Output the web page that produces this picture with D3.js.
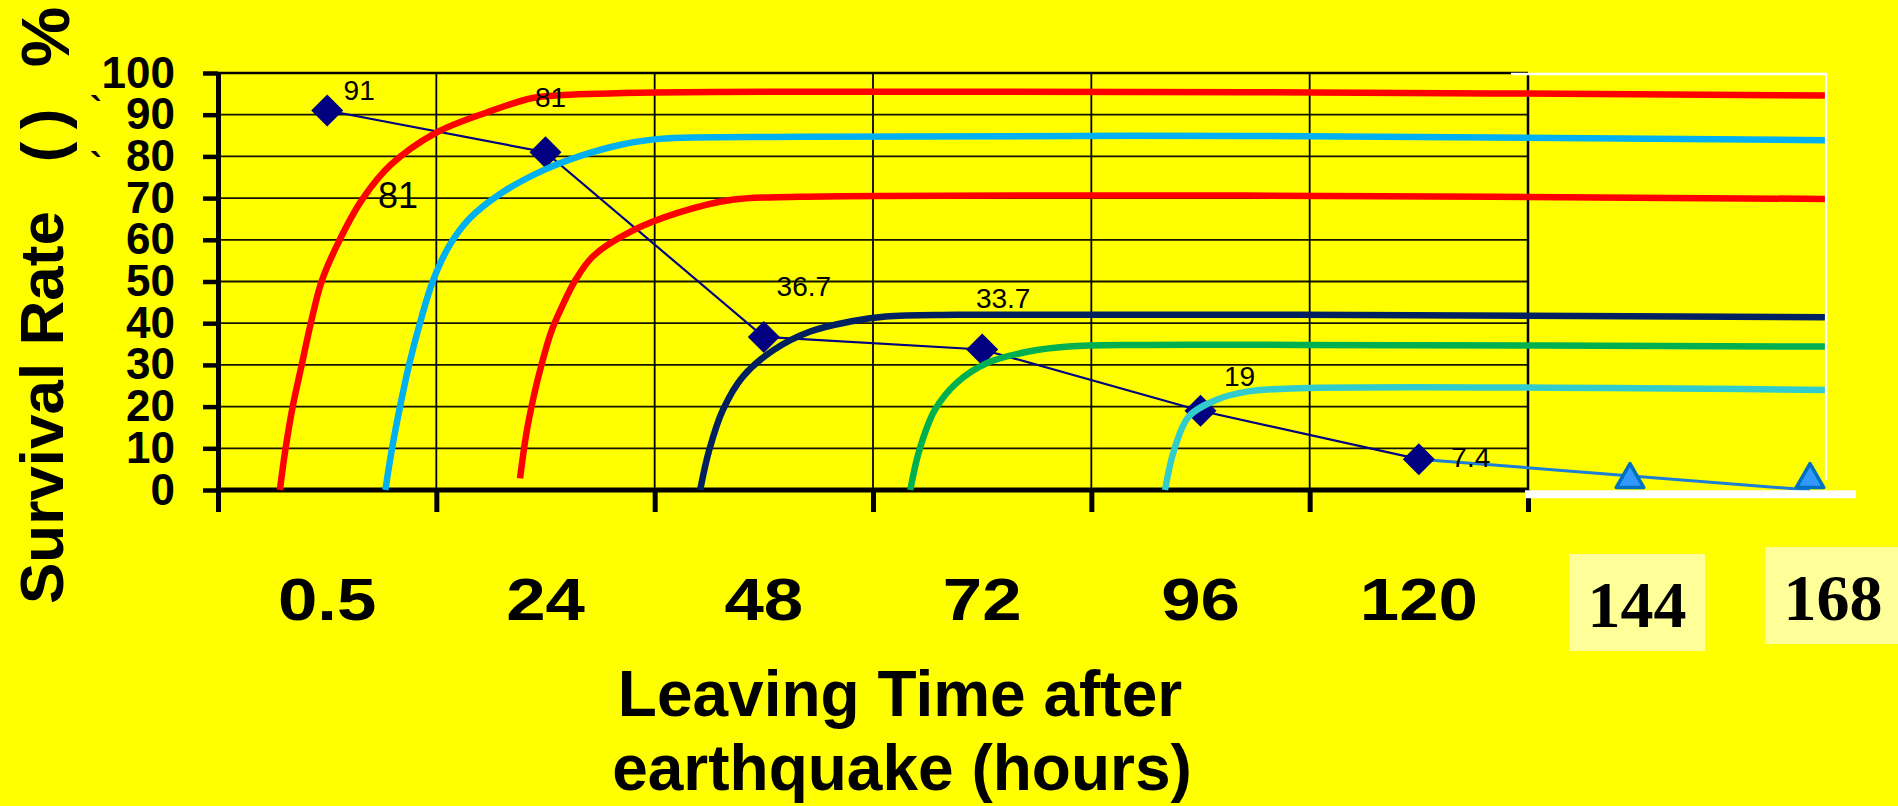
<!DOCTYPE html>
<html>
<head>
<meta charset="utf-8">
<script src="https://cdn.jsdelivr.net/npm/d3@7/dist/d3.min.js"></script>
<style>
  html, body { margin: 0; padding: 0; background: #FFFF00; }
  svg { display: block; }
  text { font-family: "Liberation Sans", Arial, sans-serif; fill: #000; }
</style>
</head>
<body>
<svg id="chart" width="1898" height="806"></svg>
<script>
// Leaving time categories (hours after the earthquake)
const categories = ["0.5", "24", "48", "72", "96", "120"];
// Survival rate (%) of people rescued in each time window
const survivalRates = [91, 81, 36.7, 33.7, 19, 7.4];

// Extended time points beyond the grid
const extraCategories = ["144", "168"];
const extraHours = [144, 168];
const extraRates = [2.5, 2.5];

// Trend continuation from the last window down to zero
const tailHours = [120, 168];
const tailRates = [7.4, 0];

const yTicks = [0, 10, 20, 30, 40, 50, 60, 70, 80, 90, 100];

// Rescue curves: [hours, survival %]
const curveRedA = [[-5.2, 0], [-4.6, 9.6], [-3.8, 19.9], [-2.8, 30], [-1.8, 40], [-0.6, 50.1], [1.2, 59.2], [3.8, 69.5], [7.0, 78], [11.9, 85.6], [17.6, 90.6], [22.6, 94], [26, 94.7], [36, 95.3], [52, 95.5], [101, 95.4], [170, 94.6]];
const curveBlueA = [[6.4, 0], [7.1, 9.6], [8.0, 19.9], [9.0, 30], [10.2, 40], [11.6, 50], [13.4, 58.5], [15.6, 65], [19, 71], [23.8, 76.7], [28.1, 80.3], [32.3, 82.8], [36.5, 84.2], [52, 84.7], [101, 84.9], [170, 83.9]];
const curveRedB = [[21.2, 2.8], [21.9, 13.6], [22.7, 22.4], [23.6, 30.4], [24.7, 38.4], [25.9, 44.4], [27.2, 50], [29.2, 56], [33.4, 62], [38.6, 66.5], [44.5, 69.6], [52, 70.3], [101, 70.6], [170, 69.8]];
const curveNavy = [[41, 0], [42, 9.6], [43.5, 19.2], [45.7, 27.2], [49.1, 33.6], [53.1, 38], [57.5, 40.4], [61.4, 41.6], [69.2, 42], [106.9, 42], [170, 41.4]];
const curveGreen = [[64.1, 0], [65.1, 9.6], [66.8, 19.2], [69.2, 25.7], [72.6, 30.5], [77.1, 33.2], [81.5, 34.4], [88.9, 34.8], [106.9, 34.8], [170, 34.4]];
const curveTeal = [[92.1, 0], [93.1, 9.6], [94.7, 17.6], [97.7, 21.6], [101.1, 23.6], [106.9, 24.4], [170, 24]];

const curves = [
  { pts: curveRedA, color: "#FF0000" },
  { pts: curveBlueA, color: "#00B0F0" },
  { pts: curveRedB, color: "#FF0000" },
  { pts: curveNavy, color: "#002060" },
  { pts: curveGreen, color: "#00B050" },
  { pts: curveTeal, color: "#33CCCC" }
];

// Value label offsets relative to each diamond
const labelOffsets = [[32, -21], [5, -55], [40, -51], [21, -51], [39, -35], [52, -2]];

const svg = d3.select("#chart");

const plotLeft = 218, plotRight = 1528, plotTop = 73, plotBottom = 490;

const y = d3.scaleLinear().domain([0, 100]).range([plotBottom, plotTop]);
const xBand = d3.scaleBand().domain(categories).range([plotLeft, plotRight]);
// hours -> px; each grid column spans 24 hours, then the extended section
const xHour = d3.scaleLinear().domain([-12, 132, 144, 168]).range([plotLeft, plotRight, 1630, 1810]);

// ---- grid ----
const grid = svg.append("g");
grid.selectAll("line.h").data(yTicks.filter(d => d > 0 && d < 100)).join("line")
  .attr("x1", plotLeft).attr("x2", plotRight)
  .attr("y1", d => y(d)).attr("y2", d => y(d))
  .attr("stroke", "#141400").attr("stroke-width", 1.8);
grid.append("line")
  .attr("x1", plotLeft).attr("x2", plotRight)
  .attr("y1", y(100)).attr("y2", y(100))
  .attr("stroke", "#000").attr("stroke-width", 2.5);
const colEdges = categories.slice(1).map(c => xBand(c)).concat([plotRight]);
grid.selectAll("line.v").data(colEdges).join("line")
  .attr("x1", d => d).attr("x2", d => d)
  .attr("y1", plotTop).attr("y2", plotBottom)
  .attr("stroke", "#000").attr("stroke-width", (d, i) => i === colEdges.length - 1 ? 2.5 : 1.8);

// ---- y axis ----
const yAxis = svg.append("g").attr("transform", `translate(${plotLeft},0)`)
  .call(d3.axisLeft(y).tickValues(yTicks).tickSize(15).tickSizeOuter(0).tickPadding(28));
yAxis.select(".domain").attr("stroke", "#000").attr("stroke-width", 5);
yAxis.selectAll(".tick line").attr("stroke", "#000").attr("stroke-width", 4.5);
yAxis.selectAll(".tick text")
  .attr("font-family", "'Liberation Sans', Arial, sans-serif")
  .attr("font-size", 44).attr("font-weight", "bold").attr("fill", "#000");

// ---- x axis: column boundaries ----
const xEdgeAxis = svg.append("g").attr("transform", `translate(0,${plotBottom})`)
  .call(d3.axisBottom(xHour).tickValues([-12, 12, 36, 60, 84, 108, 132]).tickSize(22).tickSizeOuter(0).tickFormat(""));
xEdgeAxis.select(".domain").attr("d", `M${plotLeft},0H${plotRight}`).attr("stroke", "#000").attr("stroke-width", 5);
xEdgeAxis.selectAll(".tick line").attr("stroke", "#000").attr("stroke-width", 5);

// category labels centered in each column
const xCatAxis = svg.append("g").attr("transform", `translate(0,${plotBottom})`)
  .call(d3.axisBottom(xBand).tickSize(0).tickPadding(87));
xCatAxis.select(".domain").remove();
xCatAxis.selectAll(".tick text")
  .attr("font-family", "'Liberation Sans', Arial, sans-serif")
  .attr("font-size", 60).attr("font-weight", "bold").attr("fill", "#000")
  .attr("transform", "scale(1.18,1)");

// ---- survival rate line with diamonds ----
const pts = categories.map((c, i) => [xBand(c) + xBand.bandwidth() / 2, y(survivalRates[i])]);
svg.append("path")
  .attr("d", d3.line()(pts))
  .attr("fill", "none").attr("stroke", "#000080").attr("stroke-width", 2.2);

// tail continuation
const tailPts = tailHours.map((h, i) => [xHour(h), y(tailRates[i])]);
svg.append("path")
  .attr("d", d3.line()(tailPts))
  .attr("fill", "none").attr("stroke", "#1C7ED6").attr("stroke-width", 3);

svg.append("g").selectAll("path").data(pts).join("path")
  .attr("d", d3.symbol(d3.symbolSquare, 512)())
  .attr("transform", d => `translate(${d[0]},${d[1]}) rotate(45)`)
  .attr("fill", "#000080");

// ---- rescue curves ----
const curveLine = d3.line().x(d => xHour(d[0])).y(d => y(d[1])).curve(d3.curveCatmullRom.alpha(0.5));
svg.append("g").selectAll("path").data(curves).join("path")
  .attr("d", d => curveLine(d.pts))
  .attr("fill", "none")
  .attr("stroke", d => d.color)
  .attr("stroke-width", 6.5)
  .attr("stroke-linecap", "butt");

// ---- triangles on the extended section ----
svg.append("g").selectAll("path").data(extraHours).join("path")
  .attr("d", d3.symbol(d3.symbolTriangle, 330)())
  .attr("transform", (h, i) => `translate(${xHour(h)},${y(extraRates[i])})`)
  .attr("fill", "#3399FF").attr("stroke", "#0070C0").attr("stroke-width", 3.5)
  .attr("stroke-linejoin", "round");

// ---- white frame around the extended section ----
const frame = svg.append("g").attr("stroke", "#FFFFFF").attr("fill", "none");
const frameRight = xHour(170) + 1;
frame.append("line").attr("x1", plotRight - 17).attr("x2", frameRight + 1)
  .attr("y1", y(100) + 1).attr("y2", y(100) + 1).attr("stroke-width", 2.6);
frame.append("line").attr("x1", frameRight).attr("x2", frameRight)
  .attr("y1", y(100)).attr("y2", y(2.4)).attr("stroke-width", 2.2);
frame.append("line").attr("x1", plotRight - 3).attr("x2", frameRight + 30)
  .attr("y1", plotBottom + 4.2).attr("y2", plotBottom + 4.2).attr("stroke-width", 8);

// ---- value labels ----
svg.append("g").selectAll("text").data(survivalRates).join("text")
  .attr("x", (d, i) => pts[i][0] + labelOffsets[i][0])
  .attr("y", (d, i) => pts[i][1] + labelOffsets[i][1] + 10)
  .attr("text-anchor", "middle")
  .attr("font-size", 28)
  .text(d => d);

// standalone annotation near the first curve
svg.append("text")
  .attr("x", 398).attr("y", 208)
  .attr("text-anchor", "middle").attr("font-size", 36)
  .text("81");

// ---- extended category labels ----
const boxOffsets = [[7, 554], [23, 547]];
const extra = svg.append("g").selectAll("g").data(extraCategories).join("g")
  .attr("transform", (c, i) => `translate(${xHour(extraHours[i]) + boxOffsets[i][0]},${boxOffsets[i][1]})`);
extra.append("rect")
  .attr("x", -68).attr("y", 0).attr("width", 136).attr("height", 97)
  .attr("fill", "#FFFF99");
extra.append("text")
  .attr("x", 0).attr("y", 73)
  .attr("text-anchor", "middle")
  .style("font-family", "'Liberation Serif', 'Times New Roman', serif")
  .attr("font-weight", "bold").attr("font-size", 66)
  .text(d => d);

// ---- axis titles ----
const xTitle = svg.append("g").attr("font-weight", "bold").attr("font-size", 64).attr("text-anchor", "middle");
xTitle.append("text").attr("x", 900).attr("y", 716).text("Leaving Time after");
xTitle.append("text").attr("x", 902).attr("y", 790).text("earthquake (hours)");

const yTitle = svg.append("g").attr("font-weight", "bold");
yTitle.append("text").attr("transform", "translate(63,604) rotate(-90)")
  .attr("font-size", 62).attr("text-anchor", "start").text("Survival Rate");
yTitle.append("text").attr("transform", "translate(64,152) rotate(-90)")
  .attr("font-size", 62).attr("text-anchor", "middle").text("(");
yTitle.append("text").attr("transform", "translate(64,119) rotate(-90)")
  .attr("font-size", 62).attr("text-anchor", "middle").text(")");
yTitle.append("text").attr("transform", "translate(69,37) rotate(-90)")
  .attr("font-size", 68).attr("text-anchor", "middle").text("%");
yTitle.selectAll("text.mark").data([96, 152]).join("text")
  .attr("class", "mark")
  .attr("x", 96).attr("y", d => d + 26)
  .attr("font-size", 36).attr("text-anchor", "middle").text("`");
</script>
</body>
</html>
